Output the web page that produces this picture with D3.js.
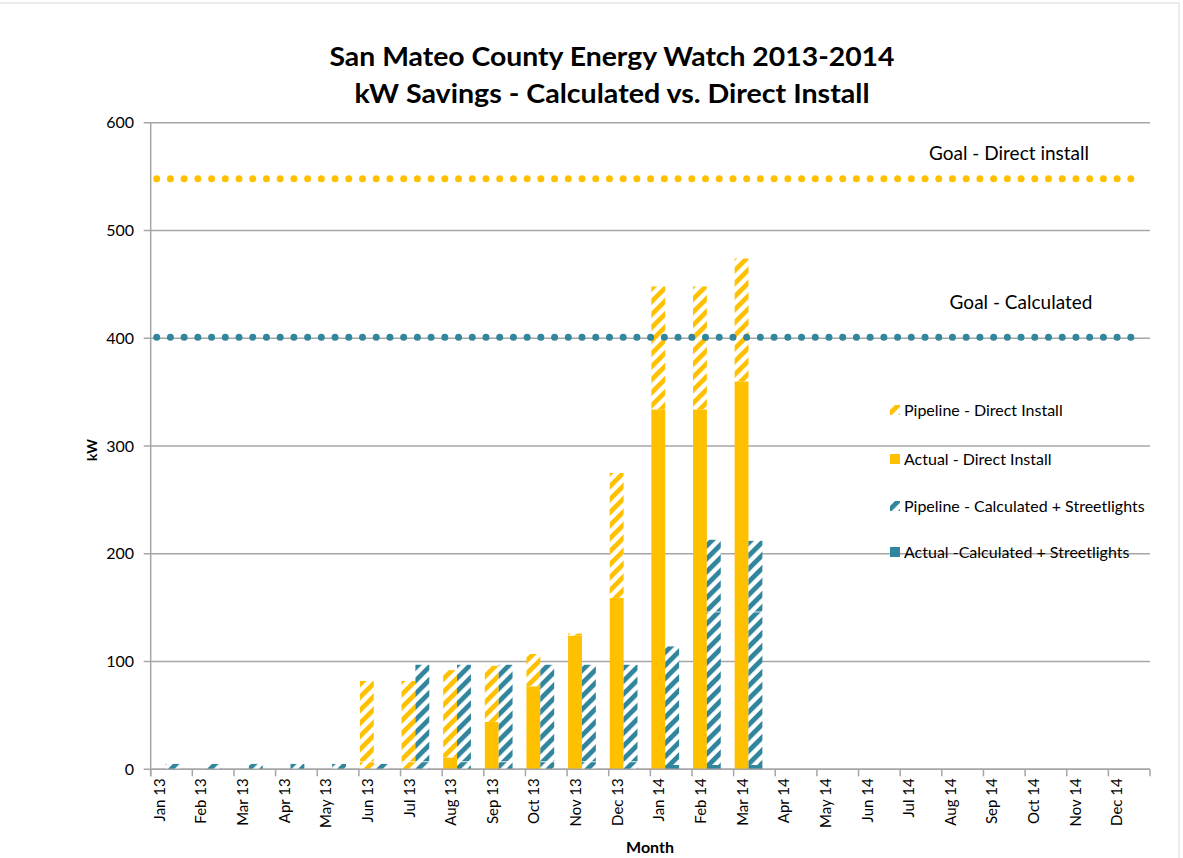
<!DOCTYPE html>
<html>
<head>
<meta charset="utf-8">
<script src="https://cdn.jsdelivr.net/npm/d3@7"></script>
<style>
	body { margin: 0; background: #fff; }
	text { font-family: Lato, "Open Sans", sans-serif; fill: #000; }
</style>
</head>
<body>
<svg id="chart" width="1183" height="858"></svg>
<script>
// months on the category axis
let months = ["Jan 13","Feb 13","Mar 13","Apr 13","May 13","Jun 13","Jul 13","Aug 13","Sep 13","Oct 13","Nov 13","Dec 13",
	"Jan 14","Feb 14","Mar 14","Apr 14","May 14","Jun 14","Jul 14","Aug 14","Sep 14","Oct 14","Nov 14","Dec 14"]

// direct install (yellow) - actual + pipeline pieces
let diActual = [0,0,0,0,0,0,0,11,44,77,124,159,334,334,360,0,0,0,0,0,0,0,0,0]
let diPipeA  = [0,0,0,0,0,7,7,0,0,0,0,0,0,0,0,0,0,0,0,0,0,0,0,0]
let diPipeB  = [0,0,0,0,0,75,75,81,52,30,2,116,114,114,114,0,0,0,0,0,0,0,0,0]

// calculated + streetlights (teal) - actual + pipeline pieces
let calcActual = [0,0,0,0,0,0,0,0,0,0,0,0,4,4,4,0,0,0,0,0,0,0,0,0]
let calcPipeA  = [5,5,5,5,5,5,7,7,7,7,7,7,110,142,142,0,0,0,0,0,0,0,0,0]
let calcPipeB  = [0,0,0,0,0,0,90,90,90,90,90,90,0,67,66,0,0,0,0,0,0,0,0,0]

let goalDirect = 548
let goalCalc = 401
let yTicks = [0,100,200,300,400,500,600]

let legendItems = [
	{label: "Pipeline - Direct Install", key: "diPipe"},
	{label: "Actual - Direct Install", key: "diActual"},
	{label: "Pipeline - Calculated + Streetlights", key: "calcPipe"},
	{label: "Actual -Calculated + Streetlights", key: "calcActual"}
]

let yellow = "#FFC000"
let teal = "#31859C"
let gridGray = "#a6a6a6"

let rows = months.map((m, i) => ({
	month: m,
	diActual: diActual[i], diPipeA: diPipeA[i], diPipeB: diPipeB[i],
	calcActual: calcActual[i], calcPipeA: calcPipeA[i], calcPipeB: calcPipeB[i]
}))

let svg = d3.select("#chart")
let width = +svg.attr("width")
let height = +svg.attr("height")

// outer frame
svg.append("rect").attr("x", -2).attr("y", 3).attr("width", 1181).attr("height", height + 10)
	.attr("fill", "none").attr("stroke", "#d9d9d9")

let defs = svg.append("defs")
let addHatch = function(id, color) {
	let p = defs.append("pattern").attr("id", id)
		.attr("patternUnits", "userSpaceOnUse").attr("width", 9.2).attr("height", 9.2)
		.attr("patternTransform", "rotate(45)")
	p.append("rect").attr("width", 9.2).attr("height", 9.2).attr("fill", "#fff")
	p.append("rect").attr("width", 4.8).attr("height", 9.2).attr("fill", color)
}
addHatch("hatchY", yellow)
addHatch("hatchT", teal)

let fills = {
	diActual: yellow, diPipeA: "url(#hatchY)", diPipeB: "url(#hatchY)", diPipe: "url(#hatchY)",
	calcActual: teal, calcPipeA: "url(#hatchT)", calcPipeB: "url(#hatchT)", calcPipe: "url(#hatchT)"
}

let x = d3.scaleBand().domain(months).range([150.7, 1150]).padding(0)
let y = d3.scaleLinear().domain([0, 600]).range([769.3, 122.7])
let barW = x.bandwidth() / 3

// title
svg.append("text").attr("x", 612).attr("y", 66).attr("text-anchor", "middle")
	.attr("textLength", 565).attr("lengthAdjust", "spacingAndGlyphs")
	.style("font-size", "27px").style("font-weight", "bold").text("San Mateo County Energy Watch 2013-2014")
svg.append("text").attr("x", 612).attr("y", 103).attr("text-anchor", "middle")
	.attr("textLength", 515).attr("lengthAdjust", "spacingAndGlyphs")
	.style("font-size", "27px").style("font-weight", "bold").text("kW Savings - Calculated vs. Direct Install")

// gridlines + y labels
let grid = svg.append("g")
grid.selectAll("line").data(yTicks).enter().append("line")
	.attr("x1", x.range()[0] - 7).attr("x2", x.range()[1])
	.attr("y1", d => y(d)).attr("y2", d => y(d))
	.attr("stroke", gridGray).attr("stroke-width", 1.5)
grid.selectAll("text").data(yTicks).enter().append("text")
	.attr("x", 134).attr("y", d => y(d) + 5.5).attr("text-anchor", "end")
	.style("font-size", "16px").text(d => d)

// y axis line
svg.append("line").attr("x1", x.range()[0]).attr("x2", x.range()[0])
	.attr("y1", y(600)).attr("y2", y(0) + 7).attr("stroke", gridGray).attr("stroke-width", 1.5)

// x ticks at category boundaries
let bounds = months.map(m => x(m)).concat([x.range()[1]])
svg.append("g").selectAll("line").data(bounds).enter().append("line")
	.attr("x1", d => d).attr("x2", d => d).attr("y1", y(0)).attr("y2", y(0) + 7)
	.attr("stroke", gridGray).attr("stroke-width", 1.5)

// bars
let drawGroup = function(keys, offset) {
	let series = d3.stack().keys(keys)(rows)
	let g = svg.append("g")
	series.forEach(s => {
		g.selectAll(null).data(s.filter(d => d[1] - d[0] > 0)).enter().append("rect")
			.attr("x", d => x(d.data.month) + offset)
			.attr("width", barW)
			.attr("y", d => y(d[1]))
			.attr("height", d => y(d[0]) - y(d[1]))
			.attr("fill", fills[s.key])
	})
	// thin break where two hatched pieces meet
	let upper = series[2]
	g.selectAll(null).data(upper.filter(d => d[1] - d[0] > 0 && d.data[keys[1]] > 0)).enter().append("line")
		.attr("x1", d => x(d.data.month) + offset).attr("x2", d => x(d.data.month) + offset + barW)
		.attr("y1", d => y(d[0])).attr("y2", d => y(d[0]))
		.attr("stroke", "#fff").attr("stroke-width", 1).attr("opacity", 0.8)
}
drawGroup(["diActual", "diPipeA", "diPipeB"], 1)
drawGroup(["calcActual", "calcPipeA", "calcPipeB"], 1 + barW)

// x axis line over bars
svg.append("line").attr("x1", x.range()[0]).attr("x2", x.range()[1])
	.attr("y1", y(0)).attr("y2", y(0)).attr("stroke", gridGray).attr("stroke-width", 1.5)

// goal lines (round dots)
let goalLine = d3.line().x(d => d[0]).y(d => d[1])
let drawGoal = function(val, color) {
	svg.append("path")
		.attr("d", goalLine([[x.range()[0] + 6, y(val)], [x.range()[1] - 8, y(val)]]))
		.attr("stroke", color).attr("stroke-width", 7)
		.attr("stroke-linecap", "round").attr("stroke-dasharray", "0 13.72")
		.attr("fill", "none")
}
drawGoal(goalDirect, yellow)
drawGoal(goalCalc, teal)

svg.append("text").attr("x", 1009).attr("y", 160).attr("text-anchor", "middle")
	.style("font-size", "19px").text("Goal - Direct install")
svg.append("text").attr("x", 1021).attr("y", 309).attr("text-anchor", "middle")
	.style("font-size", "19px").text("Goal - Calculated")

// x labels, rotated
svg.append("g").selectAll("text").data(months).enter().append("text")
	.attr("transform", d => "translate(" + (x(d) + 14) + "," + (y(0) + 9) + ") rotate(-90)")
	.attr("text-anchor", "end")
	.style("font-size", "15px").text(d => d)

// axis titles
svg.append("text").attr("x", 650).attr("y", 853).attr("text-anchor", "middle")
	.style("font-size", "16px").style("font-weight", "bold").text("Month")
svg.append("text").attr("transform", "translate(97,450) rotate(-90)").attr("text-anchor", "middle")
	.style("font-size", "14px").style("font-weight", "bold").text("kW")

// legend
let legend = svg.append("g").attr("transform", "translate(890,410)")
let li = legend.selectAll("g").data(legendItems).enter().append("g")
	.attr("transform", (d, i) => "translate(0," + [0, 49, 96, 142][i] + ")")
li.append("rect").attr("x", 0).attr("y", -5).attr("width", 10).attr("height", 10)
	.attr("fill", d => fills[d.key])
li.append("text").attr("x", 14).attr("y", 5.5).style("font-size", "16px").text(d => d.label)
</script>
</body>
</html>
